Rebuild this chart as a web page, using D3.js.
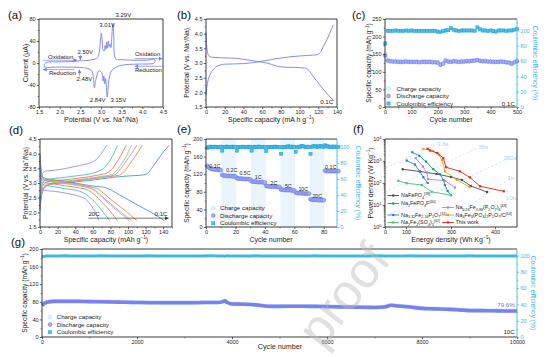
<!DOCTYPE html>
<html><head><meta charset="utf-8">
<script src="https://cdn.jsdelivr.net/npm/d3@7/dist/d3.min.js"></script>
<style>html,body{margin:0;padding:0;background:#fff;}svg{display:block;}</style>
</head><body>
<script>
const FONT='"Liberation Sans", Arial, Helvetica, sans-serif';

/* ================= DATA ================= */
// (a) CV: [potential V, current uA]
const cvOxidation=[[1.62,-7],[1.64,-1],[1.7,1.5],[1.9,2],[2.2,2.5],[2.45,3.5],[2.5,4.5],[2.55,4],[2.7,5],[2.85,7],[2.92,10],[2.96,20],[2.99,45],[3.01,54],[3.03,38],[3.05,24],[3.08,22],[3.1,32],[3.12,25],[3.14,38],[3.16,27],[3.18,40],[3.2,30],[3.22,34],[3.24,28],[3.26,45],[3.28,68],[3.29,72],[3.31,45],[3.33,12],[3.37,7],[3.5,6],[3.8,5],[4.1,5],[4.3,6]];
const cvReduction=[[4.3,6],[4.29,0],[4.2,-1.5],[3.9,-2],[3.6,-3],[3.45,-5],[3.35,-8],[3.28,-12],[3.23,-18],[3.19,-30],[3.17,-48],[3.15,-62],[3.13,-42],[3.11,-28],[3.09,-38],[3.07,-24],[3.05,-33],[3.03,-20],[3.0,-16],[2.95,-14],[2.91,-20],[2.87,-32],[2.84,-45],[2.82,-30],[2.79,-16],[2.72,-11],[2.6,-9],[2.48,-8],[2.2,-7.5],[1.9,-7.5],[1.7,-8],[1.62,-7]];
const cvPeakLabels=["3.01V","3.29V","2.50V","2.48V","2.84V","3.15V"];

// (b) galvanostatic profile 0.1C: [capacity, V]
const gcdCharge=[[0,1.9],[1,2.2],[3,2.5],[6,2.7],[10,2.85],[15,2.93],[20,2.96],[30,2.97],[40,2.98],[50,3.01],[60,3.06],[70,3.12],[80,3.17],[90,3.21],[100,3.24],[110,3.26],[118,3.28],[122,3.35],[126,3.6],[130,3.85],[134,4.15],[136,4.3]];
const gcdDischarge=[[0,4.05],[0.5,3.7],[1.5,3.4],[3,3.25],[6,3.2],[15,3.18],[25,3.17],[35,3.15],[45,3.1],[55,3.05],[65,3.0],[75,2.9],[82,2.86],[95,2.85],[105,2.83],[110,2.75],[115,2.52],[120,2.32],[125,2.12],[130,1.93],[137,1.7]];

// (c) cycling 0.1C
const cycC=[1,10,20,30,40,50,60,70,80,90,100,110,120,130,140,150,160,170,180,190,200,210,220,230,240,250,260,270,280,290,300,310,320,330,340,350,360,370,380,390,400,410,420,430,440,450,460,470,480,490,500];
const chgC=[152,134,131,130,130,129,129,129,130,129,129,129,129,128,129,129,129,129,128,128,127,121,124,133,130,129,131,130,129,130,130,131,131,132,133,134,132,131,131,130,130,129,129,129,130,129,128,127,124,128,131];
const disC=[146,132,130,129,129,128,128,128,129,128,128,128,128,127,128,128,128,128,127,127,126,120,123,132,129,128,130,129,128,129,129,130,130,131,132,133,131,130,130,129,129,128,128,128,129,128,127,126,123,127,130];
const ceC=[83,99.5,99.5,99.5,100,99.5,99.5,99.5,100,99.5,100,99.5,99.5,99.5,99.5,99.5,99.5,99.5,99.5,99.5,98.5,98,99,100,100.5,103,101,100,99.5,100,100,100,100,100,99.5,104,101.5,100,100,99.5,100,99,98.5,100,100,100,99.5,100,100,101,102];

// (d) rate profiles: [capacity, V]
const rateNamesD=["0.1C","0.5C","1C","2C","5C","10C","20C"];
const dCharge=[
 [[0,2.15],[1,2.5],[3,2.75],[6,2.88],[12,2.96],[25,3.0],[40,3.04],[55,3.08],[70,3.14],[85,3.2],[100,3.24],[112,3.26],[118,3.28],[123,3.35],[128,3.55],[134,3.8],[140,4.05],[147,4.29]],
 [[0,2.1],[1,2.45],[3,2.72],[6,2.87],[12,2.96],[25,3.02],[40,3.07],[55,3.12],[70,3.18],[82,3.23],[90,3.27],[96,3.4],[102,3.65],[108,3.9],[116,4.29]],
 [[0,2.05],[1,2.4],[3,2.7],[6,2.86],[12,2.96],[25,3.03],[40,3.09],[55,3.14],[70,3.2],[80,3.24],[86,3.3],[92,3.5],[98,3.75],[104,4.0],[110,4.29]],
 [[0,2.1],[1,2.5],[3,2.78],[6,2.9],[12,2.98],[25,3.05],[40,3.1],[55,3.16],[68,3.22],[78,3.26],[84,3.33],[90,3.55],[97,3.85],[104,4.29]],
 [[0,2.2],[1,2.6],[3,2.88],[6,3.0],[12,3.06],[25,3.1],[40,3.15],[55,3.21],[66,3.27],[74,3.32],[80,3.42],[86,3.65],[92,3.95],[98,4.29]],
 [[0,2.3],[1,2.75],[3,3.0],[6,3.1],[12,3.14],[25,3.18],[40,3.24],[55,3.3],[65,3.38],[72,3.5],[78,3.7],[83,3.95],[88,4.29]],
 [[0,2.4],[1,3.0],[3,3.33],[6,3.4],[15,3.43],[30,3.5],[45,3.6],[58,3.7],[64,3.8],[69,3.98],[73,4.15],[76,4.29]]
];
const dDischarge=[
 [[0,4.0],[0.8,3.6],[2,3.3],[4,3.18],[10,3.13],[25,3.08],[40,3.0],[55,2.92],[65,2.88],[72,2.86],[78,2.8],[90,2.6],[105,2.35],[120,2.1],[132,1.9],[141,1.72]],
 [[0,3.95],[0.8,3.5],[2,3.22],[5,3.13],[15,3.08],[30,3.02],[45,2.95],[58,2.86],[66,2.8],[72,2.65],[82,2.4],[95,2.1],[110,1.72]],
 [[0,3.9],[0.8,3.45],[2,3.2],[5,3.1],[15,3.05],[30,2.99],[45,2.92],[56,2.84],[63,2.75],[70,2.55],[80,2.3],[92,2.0],[104,1.72]],
 [[0,3.85],[0.8,3.4],[2,3.17],[5,3.08],[15,3.03],[30,2.97],[45,2.9],[55,2.83],[62,2.74],[70,2.52],[80,2.25],[90,2.0],[101,1.72]],
 [[0,3.75],[0.8,3.3],[2,3.1],[5,3.02],[15,2.97],[30,2.9],[45,2.83],[55,2.75],[62,2.6],[70,2.35],[78,2.1],[88,1.72]],
 [[0,3.65],[0.8,3.2],[2,3.0],[5,2.93],[15,2.88],[30,2.8],[45,2.72],[52,2.62],[60,2.42],[68,2.15],[79,1.72]],
 [[0,3.4],[0.8,3.0],[2,2.82],[5,2.75],[15,2.72],[30,2.65],[42,2.57],[50,2.48],[56,2.32],[61,2.1],[67,1.72]]
];

// (e) rate capability, 10 cycles per rate
const rateLabelsE=["0.1C","0.2C","0.5C","1C","2C","5C","10C","20C","0.1C"];
const rateLabelPosE=[[6,139],[17.5,130],[26.5,122],[35.5,113],[46.2,100.7],[55.9,93],[66.1,85.7],[75.6,71],[84.7,137]];
const disE=[138,135,133,132,131,131,130,130,130,129, 118,117,117,116,116,116,116,115,115,115, 111,110,110,110,109,109,109,109,109,108, 104,103,103,103,102,102,102,102,101,101, 93,93,92,92,92,92,92,91,91,91, 85,85,84,84,84,84,84,83,83,83, 78,77,77,77,77,76,76,76,76,76, 63,62,62,62,62,61,61,61,61,61, 128,127,127,127,127,127,127,127,127,127];
const chgE=[142,136,134,133,132,131,131,131,130,130, 119,118,117,117,117,116,116,116,116,115, 112,111,110,110,110,110,109,109,109,109, 105,104,103,103,103,103,102,102,102,102, 94,93,93,92,92,92,92,92,91,91, 86,85,85,84,84,84,84,84,84,83, 79,78,77,77,77,77,77,76,76,76, 64,63,62,62,62,62,61,61,61,61, 129,128,128,127,127,127,127,127,127,127];
const ceE=[99,100,100.5,100,100,100.5,100,100,100,100.5, 95.5,100,100,100.5,100,100,100,100.5,100,100, 95.5,100,100,100,100.5,100,100,100,100.5,100, 95.5,100,100,100,100,100.5,100,100,100,100, 95,100,100,100,100,100,100.5,100,100,100, 91.5,99.5,100,100,100,101,100,100,100.5,100, 94,100,100.5,100,101,101,100,100,100.5,100, 91.5,100,101,101.5,100,100,101,101,100.5,100, 102,101,100.5,100.5,100,100.5,100.5,100,100.5,100];

// (f) Ragone plot: [energy density Wh/kg, power density W/kg]
const fNaFePO4=[[84,420],[162,333],[236,257],[300,187],[325,137],[345,73],[382,39]];
const fNa2FePO4F=[[128,2500],[159,1730],[189,940],[221,425],[251,250],[266,137],[273,81],[285,43],[300,28]];
const fNa332=[[103,1050],[140,690],[162,320],[177,183],[196,100]];
const fNa2Fe2SO4=[[63,127],[103,97],[170,81],[214,40],[300,28]];
const fNa624=[[143,1350],[175,560],[192,295],[199,148],[273,127],[309,62]];
const fNa4Fe3=[[177,3500],[220,2900],[247,1900],[260,1100],[273,340],[313,140],[342,66]];
const fThisWork=[[196,3600],[207,3000],[239,2300],[266,1370],[278,520],[320,340],[343,180],[366,71],[420,42]];
const isoTimes=["3.6s","36s","360s","1h","10h"];
const isoLines=[[[3,480],[240,6000]],[[0,39],[359,3900]],[[24,3.9],[423,1100]],[[249,1.1],[423,111]],[[361,1.1],[427,12.3]]];
const isoLabelPos=[[264,6240],[373,4560],[434,1370],[436,169],[436,21]];

// (g) long cycling 10C
const cycG=[0,100,250,500,750,1000,1250,1500,1750,2000,2250,2500,2750,3000,3250,3500,3700,3800,3850,3900,4000,4250,4500,4750,5000,5250,5500,5750,6000,6250,6500,6750,7000,7200,7350,7500,7750,8000,8250,8500,8750,9000,9250,9500,9750,10000];
const disG=[72,79,81,81,81,80.5,80,79.5,79,78.5,78,78,78,78,78,78.5,78.5,80,82,78.5,75,74.5,73,70,69.5,70,70,69.5,69,68.5,68,67.5,67,68,72,70.5,68,65,64,63,62,60,60,59.5,59,59];
const chgG=[73,80,81.5,81.5,81.5,81,80.5,80,79.5,79,78.5,78.5,78.5,78.5,78.5,79,79,80.5,82.5,79,75.5,75,73.5,70.5,70,70.5,70.5,70,69.5,69,68.5,68,67.5,68.5,72.5,71,68.5,65.5,64.5,63.5,62.5,60.5,60.5,60,59.5,59.5];
const ceG=[98.5,99.3,99.5,99.6,99.4,99.5,99.6,99.5,99.4,99.5,99.6,99.5,99.5,99.4,99.5,99.6,99.5,99.3,99.2,99.6,99.5,99.5,99.6,99.5,99.4,99.5,99.5,99.6,99.5,99.5,99.4,99.5,99.6,99.5,99.3,99.5,99.6,99.5,99.5,99.4,99.5,99.6,99.5,99.4,99.5,99.5];

/* ================= STYLE ================= */
const C_LINE="#7580f1", C_DIS_F="#a7adf8", C_DIS_S="#5c66e4", C_CHG_F="#d9f2fb", C_CHG_S="#b0e2f3";
const C_CE_F="#4dbce8", C_CE_S="#1d9dd5", C_R="#3fb5e6", C_AX="#262626";
const rateColorsD=["#3f8fdc","#f27b3c","#b58cf0","#90cf68","#f06a6a","#36c2b0","#8a8df1"];

const svg=d3.select("body").append("svg").attr("width",553).attr("height",357).attr("font-family",FONT);
const defs=svg.append("defs");
function arrowMarker(id,color){
  defs.append("marker").attr("id",id).attr("viewBox","0 0 10 10").attr("refX",9).attr("refY",5)
   .attr("markerUnits","userSpaceOnUse").attr("markerWidth",4).attr("markerHeight",4).attr("orient","auto")
   .append("path").attr("d","M0,0L10,5L0,10z").attr("fill",color);
}
arrowMarker("arB",C_LINE); arrowMarker("arK","#444");

function rich(x,y,str,o={}){
  const size=o.size||6;
  const t=svg.append("text").attr("x",x).attr("y",y).attr("font-size",size).attr("fill",o.fill||"#1e1e1e")
    .attr("text-anchor",o.anchor||"start").attr("font-family",FONT);
  const re=/([_^])\{([^}]*)\}|([^_^]+)/g; let m,cur=0;
  while((m=re.exec(str))){
    let s,k=null; if(m[1]){k=m[1];s=m[2];}else s=m[3];
    const off=k==="_"?size*0.28:k==="^"?-size*0.36:0;
    const ts=t.append("tspan").text(s).attr("font-size",k?size*0.68:size);
    if(off-cur!==0) ts.attr("dy",off-cur);
    cur=off;
  }
  if(o.rot) t.attr("transform",`rotate(${o.rot},${x},${y})`);
  return t;
}
function axis(scale,orient,pos,ticks,minor,fmt,color){
  color=color||C_AX;
  const mk=()=>orient==="bottom"?d3.axisBottom(scale):orient==="left"?d3.axisLeft(scale):d3.axisRight(scale);
  const tr=orient==="bottom"?`translate(0,${pos})`:`translate(${pos},0)`;
  const a=svg.append("g").attr("transform",tr).call(mk().tickValues(ticks).tickSize(2.2).tickPadding(1.3).tickFormat(fmt||(d=>String(d))));
  a.select(".domain").remove();
  a.selectAll(".tick line").attr("stroke",color).attr("stroke-width",0.7);
  a.selectAll(".tick text").attr("font-size",5.5).attr("fill",color).attr("font-family",FONT);
  if(minor&&minor.length){
    const b=svg.append("g").attr("transform",tr).call(mk().tickValues(minor).tickSize(1.3).tickFormat(()=>""));
    b.select(".domain").remove();
    b.selectAll(".tick line").attr("stroke",color).attr("stroke-width",0.6);
  }
  return a;
}
function box(x0,y0,x1,y1,rc){
  svg.append("path").attr("d",`M${x1},${y0}H${x0}V${y1}H${x1}`).attr("fill","none").attr("stroke",C_AX).attr("stroke-width",0.9);
  svg.append("line").attr("x1",x1).attr("x2",x1).attr("y1",y0).attr("y2",y1).attr("stroke",rc||C_AX).attr("stroke-width",0.9);
}
function panelLabel(x,y,s){svg.append("text").attr("x",x).attr("y",y).attr("font-size",11.5).attr("fill","#111").text(s);}
function marker(sel,kind){
  if(kind==="ce") return sel.append("rect").attr("width",3.2).attr("height",3.2).attr("fill",C_CE_F).attr("stroke",C_CE_S).attr("stroke-width",0.45);
  return sel.append("circle").attr("r",kind==="dis"?1.9:2).attr("fill",kind==="dis"?C_DIS_F:C_CHG_F).attr("stroke",kind==="dis"?C_DIS_S:C_CHG_S).attr("stroke-width",0.45);
}
function scatter(xs,ys,xv,yv,kind){
  const d=xv.map((x,i)=>[x,yv[i]]);
  const g=svg.append("g");
  if(kind==="ce"){
    g.selectAll("rect").data(d).join("rect").attr("x",p=>xs(p[0])-1.6).attr("y",p=>ys(p[1])-1.6).attr("width",3.2).attr("height",3.2)
     .attr("fill",C_CE_F).attr("stroke",C_CE_S).attr("stroke-width",0.45);
  } else {
    g.selectAll("circle").data(d).join("circle").attr("cx",p=>xs(p[0])).attr("cy",p=>ys(p[1])).attr("r",kind==="dis"?1.9:2)
     .attr("fill",kind==="dis"?C_DIS_F:C_CHG_F).attr("stroke",kind==="dis"?C_DIS_S:C_CHG_S).attr("stroke-width",0.45);
  }
}
function legend3(mx,tx,ys){
  const names=["Charge capacity","Discharge capacity","Coulombic efficiency"], kinds=["chg","dis","ce"];
  names.forEach((n,i)=>{
    const g=svg.append("g").attr("transform",`translate(${mx},${ys[i]-2})`);
    const m=marker(g,kinds[i]); if(kinds[i]==="ce") m.attr("x",-1.6).attr("y",-1.6);
    svg.append("text").attr("x",tx).attr("y",ys[i]).attr("font-size",6.2).attr("fill","#1e1e1e").text(n);
  });
}
const range=(a,b,s)=>d3.range(a,b+s/2,s);

/* ================= (a) ================= */
{
const xa=d3.scaleLinear().domain([1.5,4.5]).range([39,163]);
const ya=d3.scaleLinear().domain([-80,80]).range([107,19]);
const ln=d3.line().x(d=>xa(d[0])).y(d=>ya(d[1])).curve(d3.curveCatmullRom.alpha(0.5));
svg.append("path").attr("d",ln(cvOxidation.concat(cvReduction.slice(1)))).attr("fill","none").attr("stroke",C_LINE).attr("stroke-width",0.9);
const arr=(v1,i1,v2,i2,id)=>svg.append("line").attr("x1",xa(v1)).attr("y1",ya(i1)).attr("x2",xa(v2)).attr("y2",ya(i2)).attr("stroke",id==="arB"?C_LINE:"#444").attr("stroke-width",0.7).attr("marker-end",`url(#${id})`);
arr(1.6,5,2.42,5,"arB"); arr(3.82,8,4.48,8,"arB");
arr(2.35,-12,1.6,-12,"arB"); arr(4.48,-6,3.82,-6,"arB");
arr(2.5,15,2.5,6,"arB"); arr(2.48,-24,2.48,-12,"arB");
const t=(v,i,s)=>svg.append("text").attr("x",xa(v)).attr("y",ya(i)).attr("font-size",6).attr("fill","#1e1e1e").text(s);
t(1.72,8,"Oxidation"); t(3.82,13,"Oxidation"); t(1.74,-22,"Reduction"); t(3.82,-17,"Reduction");
t(2.96,65,cvPeakLabels[0]); t(3.35,83,cvPeakLabels[1]); t(2.43,17,cvPeakLabels[2]); t(2.41,-33,cvPeakLabels[3]);
t(2.73,-71,cvPeakLabels[4]); t(3.23,-71,cvPeakLabels[5]);
box(39,19,163,107);
axis(xa,"bottom",107,range(1.5,4.5,0.5),range(1.75,4.25,0.5),d3.format(".1f"));
axis(ya,"left",39,[-80,-40,0,40,80],[-60,-20,20,60]);
rich(27.5,63,"Current (\u03bcA)",{size:7,rot:-90,anchor:"middle"});
rich(101,121.5,"Potential (V vs. Na^{+}/Na)",{size:7,anchor:"middle"});
panelLabel(8,19,"(a)");
}
/* ================= (b) ================= */
{
const xb=d3.scaleLinear().domain([0,140]).range([206,337]);
const yb=d3.scaleLinear().domain([1.5,4.5]).range([107,19]);
const ln=d3.line().x(d=>xb(d[0])).y(d=>yb(d[1])).curve(d3.curveMonotoneX);
[gcdCharge,gcdDischarge].forEach(s=>svg.append("path").attr("d",ln(s)).attr("fill","none").attr("stroke",C_LINE).attr("stroke-width",0.9));
svg.append("text").attr("x",xb(136)).attr("y",yb(1.6)).attr("text-anchor","end").attr("font-size",6.2).attr("fill","#1e1e1e").text("0.1C");
box(206,19,337,107);
axis(xb,"bottom",107,range(0,140,20),range(10,130,20));
axis(yb,"left",206,range(1.5,4.5,0.5),range(1.75,4.25,0.5),d3.format(".1f"));
rich(189,63,"Potential (V vs. Na^{+}/Na)",{size:6.6,rot:-90,anchor:"middle"});
rich(271,121.5,"Specific capacity (mA h g^{\u22121})",{size:7,anchor:"middle"});
panelLabel(177,19,"(b)");
}
/* ================= (c) ================= */
{
const xc=d3.scaleLinear().domain([0,500]).range([385,517]);
const yl=d3.scaleLinear().domain([0,250]).range([107,19]);
const yr=d3.scaleLinear().domain([0,115]).range([107,19]);
scatter(xc,yl,cycC,chgC,"chg");
scatter(xc,yl,cycC,disC,"dis");
scatter(xc,yr,cycC,ceC,"ce");
legend3(388.5,396.5,[90.5,98,105.5]);
svg.append("text").attr("x",xc(492)).attr("y",yl(3)).attr("text-anchor","end").attr("font-size",6.2).attr("fill","#1e1e1e").text("0.1C");
box(385,19,517,107,C_R);
axis(xc,"bottom",107,range(0,500,100),range(50,450,100));
axis(yl,"left",385,range(0,250,50),range(25,225,50));
axis(yr,"right",517,range(0,100,20),range(10,110,20),null,C_R);
rich(371,63,"Specific capacity (mAh g^{\u22121})",{size:6.6,rot:-90,anchor:"middle"});
rich(532.5,63,"Coulombic efficiency (%)",{size:6.8,rot:90,anchor:"middle",fill:C_R});
rich(451,121.5,"Cycle number",{size:7,anchor:"middle"});
panelLabel(352,19,"(c)");
}
/* ================= (d) ================= */
{
const xd=d3.scaleLinear().domain([0,150]).range([40,172]);
const yd=d3.scaleLinear().domain([1.5,4.5]).range([227,139]);
const ln=d3.line().x(d=>xd(d[0])).y(d=>yd(d[1])).curve(d3.curveMonotoneX);
rateNamesD.forEach((n,i)=>{
  svg.append("path").attr("d",ln(dCharge[i])).attr("fill","none").attr("stroke",rateColorsD[i]).attr("stroke-width",0.85);
  svg.append("path").attr("d",ln(dDischarge[i])).attr("fill","none").attr("stroke",rateColorsD[i]).attr("stroke-width",0.85);
});
svg.append("line").attr("x1",xd(55)).attr("x2",xd(146)).attr("y1",yd(1.8)).attr("y2",yd(1.8)).attr("stroke","#444").attr("stroke-width",0.7).attr("marker-end","url(#arK)");
svg.append("text").attr("x",xd(55)).attr("y",yd(1.86)).attr("font-size",6.2).attr("fill","#1e1e1e").text(rateNamesD[6]);
svg.append("text").attr("x",xd(145)).attr("y",yd(1.86)).attr("text-anchor","end").attr("font-size",6.2).attr("fill","#1e1e1e").text(rateNamesD[0]);
box(40,139,172,227);
axis(xd,"bottom",227,range(0,140,20),range(10,150,20));
axis(yd,"left",40,range(1.5,4.5,0.5),range(1.75,4.25,0.5),d3.format(".1f"));
rich(27.5,183,"Potential (V vs. Na^{+}/Na)",{size:6.8,rot:-90,anchor:"middle"});
rich(106,241.5,"Specific capacity (mAh g^{\u22121})",{size:7,anchor:"middle"});
panelLabel(9,134,"(d)");
}
/* ================= (e) ================= */
{
const xe=d3.scaleLinear().domain([0,89]).range([206,337]);
const yl=d3.scaleLinear().domain([0,200]).range([227,139]);
const yr=d3.scaleLinear().domain([0,110]).range([227,139]);
const groups=d3.range(rateLabelsE.length);
svg.append("g").selectAll("rect").data(groups.filter(i=>i%2===1)).join("rect")
  .attr("x",i=>xe(i*10+0.5)).attr("width",xe(10)-xe(0)).attr("y",139).attr("height",88).attr("fill","#eaf4fc");
const cyc=d3.range(1,disE.length+1);
scatter(xe,yl,cyc,chgE,"chg");
scatter(xe,yl,cyc,disE,"dis");
scatter(xe,yr,cyc,ceE,"ce");
rateLabelsE.forEach((s,i)=>svg.append("text").attr("x",xe(rateLabelPosE[i][0])).attr("y",yl(rateLabelPosE[i][1])+2).attr("text-anchor","middle").attr("font-size",5.3).attr("fill","#1e1e1e").text(s));
legend3(213.3,220,[209.9,217.5,225.3]);
box(206,139,337,227,C_R);
axis(xe,"bottom",227,range(0,80,20),range(10,70,20));
axis(yl,"left",206,range(0,200,40),range(20,180,40));
axis(yr,"right",337,range(0,100,20),range(10,90,20),null,C_R);
rich(188.5,183,"Specific capacity (mAh g^{\u22121})",{size:6.6,rot:-90,anchor:"middle"});
rich(355.8,183,"Coulombic efficiency (%)",{size:6.8,rot:90,anchor:"middle",fill:C_R});
rich(271,241.5,"Cycle number",{size:7,anchor:"middle"});
panelLabel(177,133,"(e)");
}
/* ================= (f) ================= */
{
const xf=d3.scaleLinear().domain([0,100,300,400,450]).range([385,406,451,495,517]);
const yf=d3.scaleLog().domain([1,1e4]).range([227,139]);
const ln=d3.line().x(d=>xf(d[0])).y(d=>yf(d[1]));
isoLines.forEach((l,i)=>{
  svg.append("path").attr("d",ln(l)).attr("fill","none").attr("stroke","#b8dcf4").attr("stroke-width",0.7).attr("stroke-dasharray","2.5,1.8");
  svg.append("text").attr("x",xf(isoLabelPos[i][0])).attr("y",yf(isoLabelPos[i][1])).attr("dy","0.35em").attr("text-anchor","middle").attr("font-size",6).attr("fill","#a6d2f1").text(isoTimes[i]);
});
const series=[
 {d:fNaFePO4,c:"#4a4a4a",n:"NaFePO_{4}^{[39]}",col:0,row:0},
 {d:fNa2FePO4F,c:"#14998a",n:"Na_{2}FePO_{4}F^{[40]}",col:0,row:1},
 {d:fNa332,c:"#2e74e0",n:"Na_{3.32}Fe_{2.34}P_{2}O_{7}^{[41]}",col:0,row:2},
 {d:fNa2Fe2SO4,c:"#45c27c",n:"Na_{2}Fe_{2}(SO_{4})_{3}^{[42]}",col:0,row:3},
 {d:fNa624,c:"#b77fe9",n:"Na_{6.24}Fe_{4.88}(P_{2}O_{7})_{4}^{[43]}",col:1,row:0},
 {d:fNa4Fe3,c:"#e2a31b",n:"Na_{4}Fe_{3}(PO_{4})_{2}P_{2}O_{7}/C^{[44]}",col:1,row:1},
 {d:fThisWork,c:"#e8221c",n:"This work",col:1,row:2}
];
series.forEach(s=>{
  svg.append("path").attr("d",ln(s.d)).attr("fill","none").attr("stroke",s.c).attr("stroke-width",0.9);
  svg.append("g").selectAll("rect").data(s.d).join("rect").attr("x",p=>xf(p[0])-1.1).attr("y",p=>yf(p[1])-1.1).attr("width",2.2).attr("height",2.2).attr("fill",s.c);
});
const rowsY=[[195.5,203.5,215,222.5],[207.5,215,222.5]];
const colX=[[387.5,399,401],[442,454,455.5]];
series.forEach(s=>{
  const y=rowsY[s.col][s.row], cx=colX[s.col];
  svg.append("line").attr("x1",cx[0]).attr("x2",cx[1]).attr("y1",y).attr("y2",y).attr("stroke",s.c).attr("stroke-width",0.9);
  svg.append("rect").attr("x",(cx[0]+cx[1])/2-1.1).attr("y",y-1.1).attr("width",2.2).attr("height",2.2).attr("fill",s.c);
  rich(cx[2],y+1.9,s.n,{size:5.4});
});
box(385,139,517,227);
axis(xf,"bottom",227,[0,100,300,400],[]);
const ay=axis(yf,"left",385,[1,10,100,1000,10000],[2,3,4,5,6,7,8,9,20,30,40,50,60,70,80,90,200,300,400,500,600,700,800,900,2000,3000,4000,5000,6000,7000,8000,9000]);
ay.selectAll(".tick text").each(function(d){const t=d3.select(this);t.text("");t.append("tspan").text("10");t.append("tspan").attr("dy",-2.2).attr("font-size",4).text(Math.round(Math.log10(d)));});
rich(372.5,183,"Power density (W Kg^{\u22121})",{size:6.8,rot:-90,anchor:"middle"});
rich(451,241.5,"Energy density (Wh Kg^{\u22121})",{size:7,anchor:"middle"});
panelLabel(353,133,"(f)");
}
/* ================= (g) ================= */
{
const xg=d3.scaleLinear().domain([0,10000]).range([42,517]);
const yl=d3.scaleLinear().domain([0,200]).range([337,249]);
const yr=d3.scaleLinear().domain([0,108]).range([337,249]);
const lnL=d3.line().x((d,i)=>xg(cycG[i])).y(d=>yl(d)).curve(d3.curveMonotoneX);
const lnR=d3.line().x((d,i)=>xg(cycG[i])).y(d=>yr(d)).curve(d3.curveMonotoneX);
svg.append("path").attr("d",lnL(chgG)).attr("fill","none").attr("stroke","#cdeefa").attr("stroke-width",4.2);
svg.append("path").attr("d",lnL(disG)).attr("fill","none").attr("stroke","#7983f1").attr("stroke-width",3.6);
svg.append("path").attr("d",lnL(disG)).attr("fill","none").attr("stroke","#5d68e6").attr("stroke-width",0.6).attr("stroke-dasharray","1,1.5").attr("opacity",0.7);
svg.append("path").attr("d",lnR(ceG)).attr("fill","none").attr("stroke","#45b9e7").attr("stroke-width",3);
svg.append("path").attr("d",lnR(ceG)).attr("fill","none").attr("stroke","#1d9dd5").attr("stroke-width",0.6).attr("stroke-dasharray","1,1.5").attr("opacity",0.7);
legend3(50,56.7,[318.9,326.5,334.2]);
svg.append("text").attr("x",xg(9950)).attr("y",yl(68)).attr("text-anchor","end").attr("font-size",6.1).attr("fill","#6b78ee").text("79.6%");
svg.append("text").attr("x",xg(9950)).attr("y",yl(7)).attr("text-anchor","end").attr("font-size",6.1).attr("fill","#1e1e1e").text("10C");
box(42,249,517,337,C_R);
axis(xg,"bottom",337,range(0,10000,2000),range(1000,9000,2000));
axis(yl,"left",42,range(0,200,40),range(20,180,40));
axis(yr,"right",517,range(0,100,20),range(10,90,20),null,C_R);
rich(26.5,293,"Specific capacity (mAh g^{\u22121})",{size:6.6,rot:-90,anchor:"middle"});
rich(530.5,293,"Coulombic efficiency (%)",{size:6.8,rot:90,anchor:"middle",fill:C_R});
rich(280,348.5,"Cycle number",{size:7.2,anchor:"middle"});
panelLabel(11,246,"(g)");
}
/* watermark */
svg.append("text").attr("x",322).attr("y",350).attr("transform","rotate(-52,322,350)").attr("font-size",50).attr("fill","#bcbcbc").attr("opacity",0.45).text("proof");
</script>
</body></html>
